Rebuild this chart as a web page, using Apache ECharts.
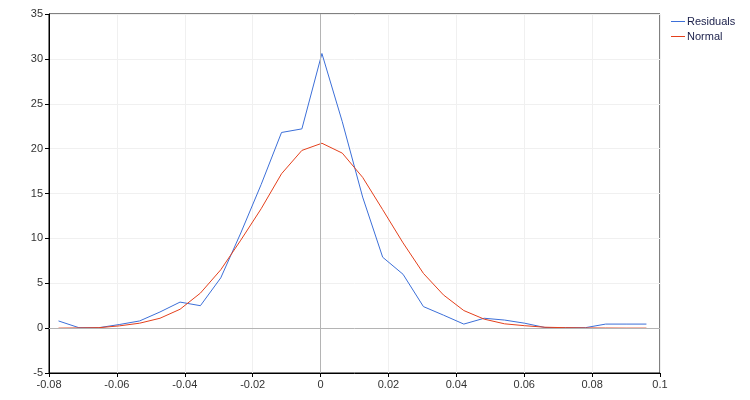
<!DOCTYPE html>
<html>
<head>
<meta charset="utf-8">
<script src="https://cdn.jsdelivr.net/npm/echarts@6/dist/echarts.min.js"></script>
<style>html,body{margin:0;padding:0;background:#fff}#c{width:750px;height:400px}</style>
</head>
<body>
<div id="c"></div>
<script>
const xValues = [-0.0772,-0.0712,-0.0653,-0.0593,-0.0533,-0.0473,-0.0414,-0.0354,-0.0294,-0.0235,-0.0175,-0.0115,-0.0055,0.0004,0.0064,0.0124,0.0183,0.0243,0.0303,0.0362,0.0422,0.0482,0.0542,0.0601,0.0661,0.0721,0.0780,0.0840,0.0900,0.0960];
const residuals = [0.8,0.05,0.05,0.4,0.8,1.8,2.9,2.5,5.6,10.6,16.0,21.8,22.2,30.6,23.0,14.6,7.9,6.0,2.4,1.45,0.45,1.1,0.9,0.55,0.07,0.05,0.05,0.45,0.45,0.45];
const normal = [0.0,0.02,0.05,0.25,0.55,1.1,2.1,3.9,6.5,9.8,13.3,17.2,19.8,20.6,19.5,16.8,13.2,9.5,6.1,3.7,1.96,1.0,0.48,0.27,0.1,0.05,0.02,0.01,0,0];
const seriesNames = ['Residuals','Normal'];
const xTicks = {min:-0.08, max:0.1, step:0.02};
const yTicks = {min:-5, max:35, step:5};

const pair = arr => xValues.map((x,i)=>[x,arr[i]]);
const chart = echarts.init(document.getElementById('c'), null, {renderer:'canvas'});
const labelStyle = {color:'#333', fontSize:11, fontFamily:'Liberation Sans, Arial, sans-serif'};
chart.setOption({
  animation:false,
  grid:{left:49, right:90, top:14, bottom:27, show:true, borderColor:'#000', borderWidth:1},
  legend:{
    data:seriesNames, orient:'vertical', left:666, top:11, itemWidth:14, itemHeight:1,
    icon:'rect', itemGap:4,
    textStyle:{color:'#1a1f4a', fontSize:11, fontFamily:'Liberation Sans, Arial, sans-serif', padding:[0,0,0,-3]}
  },
  xAxis:{
    type:'value', min:xTicks.min, max:xTicks.max, interval:xTicks.step,
    axisLine:{onZero:false, lineStyle:{color:'#000', width:1}},
    axisTick:{show:true, length:4, lineStyle:{color:'#000'}},
    axisLabel:Object.assign({margin:6, formatter:v=>String(+v.toFixed(2))}, labelStyle),
    splitLine:{show:true, lineStyle:{color:'#f0f0f0'}}
  },
  yAxis:{
    type:'value', min:yTicks.min, max:yTicks.max, interval:yTicks.step,
    axisLine:{onZero:false, lineStyle:{color:'#000', width:1}},
    axisTick:{show:true, length:4, lineStyle:{color:'#000'}},
    axisLabel:Object.assign({margin:6}, labelStyle),
    splitLine:{show:true, lineStyle:{color:'#f0f0f0'}}
  },
  series:[
    {name:seriesNames[0], type:'line', data:pair(residuals), showSymbol:false, symbol:'none',
     lineStyle:{color:'#3c6fd8', width:1}, itemStyle:{color:'#3c6fd8'}, z:3,
     markLine:{silent:true, symbol:'none', label:{show:false}, lineStyle:{color:'#b4b4b4', width:1, type:'solid'},
       data:[{xAxis:0},{yAxis:0}]}},
    {name:seriesNames[1], type:'line', data:pair(normal), showSymbol:false, symbol:'none',
     lineStyle:{color:'#e4401c', width:1}, itemStyle:{color:'#e4401c'}, z:4}
  ]
});
</script>
</body>
</html>
